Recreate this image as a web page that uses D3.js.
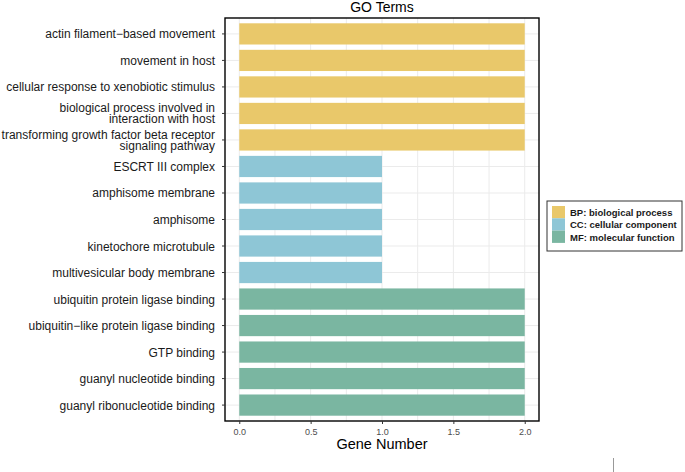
<!DOCTYPE html>
<html>
<head>
<meta charset="utf-8">
<script src="https://cdn.jsdelivr.net/npm/d3@7"></script>
<style>
  body { margin: 0; background: #fff; }
  svg { font-family: "Liberation Sans", Arial, sans-serif; }
</style>
</head>
<body>
<svg id="chart" width="685" height="472"></svg>
<script>
// terms, top to bottom
let terms = [
  "actin filament\u2212based movement",
  "movement in host",
  "cellular response to xenobiotic stimulus",
  "biological process involved in\ninteraction with host",
  "transforming growth factor beta receptor\nsignaling pathway",
  "ESCRT III complex",
  "amphisome membrane",
  "amphisome",
  "kinetochore microtubule",
  "multivesicular body membrane",
  "ubiquitin protein ligase binding",
  "ubiquitin\u2212like protein ligase binding",
  "GTP binding",
  "guanyl nucleotide binding",
  "guanyl ribonucleotide binding"
];
let geneCounts = [2, 2, 2, 2, 2, 1, 1, 1, 1, 1, 2, 2, 2, 2, 2];
let ontology = ["BP", "BP", "BP", "BP", "BP", "CC", "CC", "CC", "CC", "CC", "MF", "MF", "MF", "MF", "MF"];
let ontologyKeys = ["BP", "CC", "MF"];
let legendLabels = ["BP: biological process", "CC: cellular component", "MF: molecular function"];
let ontologyColors = ["#E9C86A", "#8EC6D6", "#7AB6A1"];
let xTicks = [0, 0.5, 1, 1.5, 2];

let svg = d3.select("#chart");
let margin = { top: 18, left: 225, right: 146, bottom: 51 };
let width = 685, height = 472;
let innerWidth = width - margin.left - margin.right;
let innerHeight = height - margin.top - margin.bottom;

let g = svg.append("g").attr("transform", `translate(${margin.left}, ${margin.top})`);

// ggplot-like expansion: 0..2 with 5% padding
let xScale = d3.scaleLinear().domain([-0.1, 2.1]).range([0, innerWidth]);
let yScale = d3.scaleBand()
  .domain(terms)
  .range([0, innerHeight])
  .paddingInner(0.2)
  .paddingOuter(0.2);
let colorScale = d3.scaleOrdinal().domain(ontologyKeys).range(ontologyColors);

//Gridlines
g.selectAll(".vgrid")
  .data(d3.range(0, 2.01, 0.25))
  .enter()
  .append("line")
  .attr("x1", d => xScale(d))
  .attr("x2", d => xScale(d))
  .attr("y1", 0)
  .attr("y2", innerHeight)
  .attr("stroke", "#ebebeb")
  .attr("stroke-width", 1);

g.selectAll(".hgrid")
  .data(terms)
  .enter()
  .append("line")
  .attr("x1", 0)
  .attr("x2", innerWidth)
  .attr("y1", d => yScale(d) + yScale.bandwidth() / 2)
  .attr("y2", d => yScale(d) + yScale.bandwidth() / 2)
  .attr("stroke", "#ebebeb")
  .attr("stroke-width", 1);

//Bars
g.selectAll("rect.bar")
  .data(terms.map((t, i) => ({ term: t, value: geneCounts[i], ont: ontology[i] })))
  .enter()
  .append("rect")
  .attr("class", "bar")
  .attr("x", xScale(0))
  .attr("y", d => yScale(d.term))
  .attr("width", d => xScale(d.value) - xScale(0))
  .attr("height", yScale.bandwidth())
  .attr("fill", d => colorScale(d.ont));

// Panel border
g.append("rect")
  .attr("x", 0).attr("y", 0)
  .attr("width", innerWidth).attr("height", innerHeight)
  .attr("fill", "none")
  .attr("stroke", "#000")
  .attr("stroke-width", 1.4);

// X-Axis
let xAxisG = g.append("g")
  .attr("transform", `translate(0,${innerHeight})`)
  .call(d3.axisBottom(xScale).tickValues(xTicks).tickFormat(d3.format(".1f")).tickSize(3).tickPadding(5));
xAxisG.select(".domain").remove();
xAxisG.selectAll("line").attr("stroke", "#333");
xAxisG.selectAll("text").attr("fill", "#4d4d4d").style("font-size", "9px").style("font-family", "Liberation Sans, Arial, sans-serif");

// Y-axis
let yAxisG = g.append("g")
  .call(d3.axisLeft(yScale).tickSize(3).tickPadding(6).tickFormat(""));
yAxisG.select(".domain").remove();
yAxisG.selectAll("line").attr("stroke", "#333");

g.selectAll(".ylabel")
  .data(terms)
  .enter()
  .append("text")
  .attr("class", "ylabel")
  .attr("text-anchor", "end")
  .attr("x", -10)
  .attr("y", d => yScale(d) + yScale.bandwidth() / 2)
  .style("font-size", "12px")
  .attr("fill", "#1a1a1a")
  .each(function(d) {
    let lines = d.split("\n");
    let el = d3.select(this);
    lines.forEach((line, i) => {
      el.append("tspan")
        .attr("x", -10)
        .attr("dy", i === 0 ? (4.5 - (lines.length - 1) * 5.5) + "px" : "11px")
        .text(line);
    });
  });

// Title and axis label
svg.append("text")
  .attr("x", margin.left + innerWidth / 2)
  .attr("y", 11.5)
  .attr("text-anchor", "middle")
  .style("font-size", "14px")
  .attr("fill", "#000")
  .text("GO Terms");

svg.append("text")
  .attr("x", margin.left + innerWidth / 2)
  .attr("y", 449)
  .attr("text-anchor", "middle")
  .style("font-size", "14.5px")
  .attr("fill", "#000")
  .text("Gene Number");

// Legend
let legend = svg.append("g").attr("transform", "translate(547, 201)");
legend.append("rect")
  .attr("width", 135).attr("height", 50)
  .attr("fill", "#fff")
  .attr("stroke", "#333")
  .attr("stroke-width", 1);
legendLabels.forEach((lab, i) => {
  legend.append("rect")
    .attr("x", 5).attr("y", 5 + i * 12.3)
    .attr("width", 13).attr("height", 12.3)
    .attr("fill", ontologyColors[i]);
  legend.append("text")
    .attr("x", 23).attr("y", 15 + i * 12.3)
    .style("font-size", "9.5px")
    .style("font-weight", "bold")
    .attr("fill", "#1a1a1a")
    .text(lab);
});

// stray mark at bottom right
svg.append("line")
  .attr("x1", 613.5).attr("x2", 613.5)
  .attr("y1", 458).attr("y2", 472)
  .attr("stroke", "#999")
  .attr("stroke-width", 1);
</script>
</body>
</html>
